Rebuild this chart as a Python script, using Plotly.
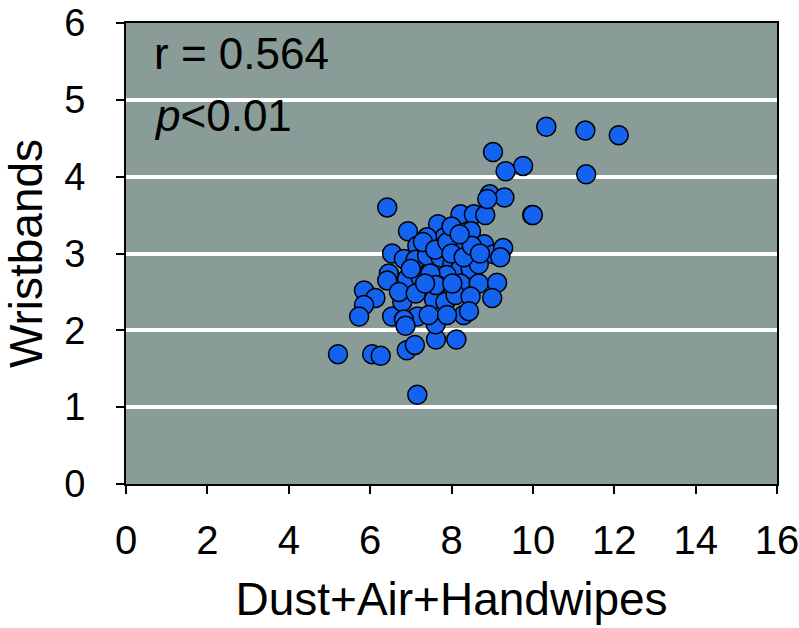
import plotly.graph_objects as go

# Data (x = Dust+Air+Handwipes, y = Wristbands)
x_vals = [
    5.21, 6.05, 6.26, 7.16, 6.90, 7.10, 7.62, 8.12,
    6.42, 6.93, 7.67, 8.22, 8.55, 8.83, 8.94, 9.30, 8.88, 9.98,
    10.33, 11.29, 12.11, 11.31, 9.76, 9.33, 9.02, 10.0,
    8.48, 7.83, 7.16, 7.48, 8.07, 8.80, 9.04, 9.27, 9.20,
    6.54, 6.83, 7.12, 7.40, 7.73, 8.02, 8.22, 8.47, 8.67,
    6.46, 6.42, 6.91, 7.24, 7.44, 7.88, 8.22, 8.67, 9.12,
    5.85, 6.13, 5.85, 5.73, 6.54, 6.79, 6.71, 7.12, 7.57,
    7.85, 8.10, 8.47, 9.00, 7.16, 6.83, 6.87, 7.61, 7.44,
    8.30, 8.43, 7.65, 7.00, 7.48, 7.61, 8.02, 7.35, 7.40,
    7.30, 7.60, 7.90, 8.00, 8.30, 8.50, 8.70, 8.00, 8.20, 7.89,
]
y_vals = [
    1.69, 1.69, 1.67, 1.16, 1.74, 1.81, 1.88, 1.88,
    3.60, 3.29, 3.38, 3.51, 3.51, 3.50, 3.77, 3.73, 3.71, 3.50,
    4.65, 4.60, 4.54, 4.03, 4.14, 4.07, 4.32, 3.50,
    3.29, 3.21, 3.10, 3.10, 3.08, 3.12, 2.99, 3.07, 2.95,
    3.00, 2.93, 2.92, 2.97, 2.95, 2.86, 2.80, 2.80, 2.86,
    2.74, 2.65, 2.67, 2.69, 2.67, 2.72, 2.61, 2.61, 2.62,
    2.52, 2.42, 2.33, 2.18, 2.18, 2.37, 2.50, 2.48, 2.40,
    2.37, 2.46, 2.44, 2.42, 2.18, 2.14, 2.06, 2.08, 2.20,
    2.20, 2.25, 2.59, 2.80, 2.74, 2.59, 2.61, 2.61, 3.21,
    3.15, 3.05, 3.15, 3.00, 2.95, 3.10, 3.00, 3.35, 3.25, 2.20,
]

x_ticks = [0, 2, 4, 6, 8, 10, 12, 14, 16]
y_ticks = [0, 1, 2, 3, 4, 5, 6]
x_title = "Dust+Air+Handwipes"
y_title = "Wristbands"
stat_r = "r = 0.564"
stat_p = "<i>p</i><0.01"

FONT = "Liberation Sans, Arial, sans-serif"

fig = go.Figure()
fig.add_trace(go.Scatter(
    x=x_vals, y=y_vals, mode="markers",
    marker=dict(size=19, color="#1463F0", line=dict(color="black", width=1.5)),
    showlegend=False, hoverinfo="x+y",
))

fig.add_annotation(text=stat_r, x=0.04, xref="paper", y=5.6, yref="y",
                   xanchor="left", yanchor="middle", showarrow=False,
                   font=dict(size=44, color="black", family=FONT))
fig.add_annotation(text=stat_p, x=0.04, xref="paper", y=4.8, yref="y",
                   xanchor="left", yanchor="middle", showarrow=False,
                   font=dict(size=44, color="black", family=FONT))

fig.update_layout(
    width=799, height=628,
    margin=dict(l=126, r=22, t=23, b=144, autoexpand=False),
    paper_bgcolor="white",
    plot_bgcolor="#8A9C97",
    font=dict(family=FONT, color="black"),
    xaxis=dict(
        range=[0, 16], tickvals=x_ticks, ticktext=[str(v) for v in x_ticks],
        showgrid=False, zeroline=False, automargin=False,
        showline=True, linecolor="black", linewidth=2, mirror=True,
        ticks="outside", ticklen=8, tickwidth=2, tickcolor="black",
        tickfont=dict(size=40, family=FONT), ticklabelstandoff=12,
        ticklabeloverflow="allow",
        title=dict(text=x_title, font=dict(size=46, family=FONT), standoff=22),
    ),
    yaxis=dict(
        range=[0, 6], tickvals=y_ticks, ticktext=[str(v) for v in y_ticks],
        showgrid=True, gridcolor="white", gridwidth=3.5, zeroline=False,
        automargin=False,
        showline=True, linecolor="black", linewidth=2, mirror=True,
        ticks="outside", ticklen=8, tickwidth=2, tickcolor="black",
        tickfont=dict(size=38, family=FONT), ticklabelstandoff=23,
        ticklabeloverflow="allow",
        title=dict(text=y_title, font=dict(size=46, family=FONT), standoff=37),
    ),
)

fig.write_html("out.html")
